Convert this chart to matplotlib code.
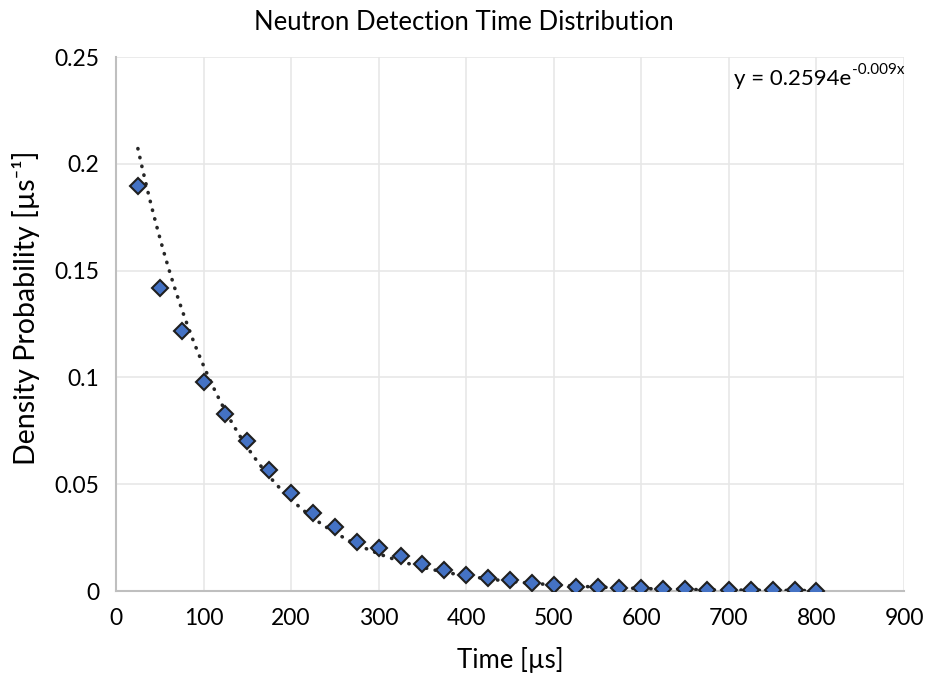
import numpy as np
import matplotlib
matplotlib.use("Agg")
import matplotlib.pyplot as plt

plt.rcParams['font.family'] = ['Lato', 'DejaVu Sans']
plt.rcParams['axes.unicode_minus'] = False

# Measured points (time in µs, density probability in 1/µs)
time_us = [25, 50, 75, 100, 125, 150, 175, 200, 225, 250, 275, 300, 325, 350,
           375, 400, 425, 450, 475, 500, 525, 550, 575, 600, 625, 650, 675,
           700, 725, 750, 775, 800]
density = [0.1894, 0.1420, 0.1218, 0.0977, 0.0829, 0.0700, 0.0565, 0.0461,
           0.0363, 0.0298, 0.0228, 0.0202, 0.0164, 0.0126, 0.0098, 0.0076,
           0.0059, 0.0050, 0.0039, 0.0028, 0.0017, 0.0017, 0.0013, 0.0012,
           0.0009, 0.0008, 0.0007, 0.0005, 0.0005, 0.0003, 0.0003, 0.0002]

# Excel exponential trendline coefficients
fit_a = 0.2594
fit_b = -0.009

x_ticks = [0, 100, 200, 300, 400, 500, 600, 700, 800, 900]
y_ticks = [0, 0.05, 0.1, 0.15, 0.2, 0.25]
y_labels = ["0", "0.05", "0.1", "0.15", "0.2", "0.25"]

fig = plt.figure(figsize=(9.38, 6.81), dpi=100)
ax = fig.add_axes([116 / 938, 1 - 591 / 681, (904 - 116) / 938, (591 - 57) / 681])

# trendline
xs = np.linspace(time_us[0], time_us[-1], 300)
ax.plot(xs, fit_a * np.exp(fit_b * xs), color="#262626", linewidth=2.6,
        linestyle=(0, (0.1, 2.4)), dash_capstyle="round", zorder=3)

ax.plot(time_us, density, linestyle="none", marker="D", markersize=8.5,
        markerfacecolor="#4472C4", markeredgecolor="#1f1f1f",
        markeredgewidth=1.5, zorder=4)

ax.set_xlim(0, 900)
ax.set_ylim(0, 0.25)
ax.set_xticks(x_ticks)
ax.set_yticks(y_ticks)
ax.set_yticklabels(y_labels)
ax.tick_params(length=0, labelsize=16.5, colors="#000000", pad=12)
ax.grid(True, color="#e6e6e6", linewidth=1.1)
ax.set_axisbelow(True)
for side in ["top", "right"]:
    ax.spines[side].set_visible(False)
for side in ["left", "bottom"]:
    ax.spines[side].set_color("#bfbfbf")
    ax.spines[side].set_linewidth(1.5)

ax.set_xlabel("Time [µs]", fontsize=18.5, labelpad=13)
ax.set_ylabel("Density Probability [µs⁻¹]", fontsize=20.5)
ax.yaxis.set_label_coords(-0.097, 0.53)
fig.text(464 / 938, 1 - 22 / 681, "Neutron Detection Time Distribution",
         ha="center", va="center", fontsize=18.5)

# trendline equation with a plain hyphen in the exponent
sup = ax.text(1.0, 0.975, "-0.009x", transform=ax.transAxes,
              ha="right", va="center", fontsize=11)
ax.annotate("y = 0.2594e", xy=(0, 0.5), xycoords=sup, xytext=(0, -6),
            textcoords="offset points", ha="right", va="center", fontsize=16)

fig.savefig("out.png", dpi=100)
